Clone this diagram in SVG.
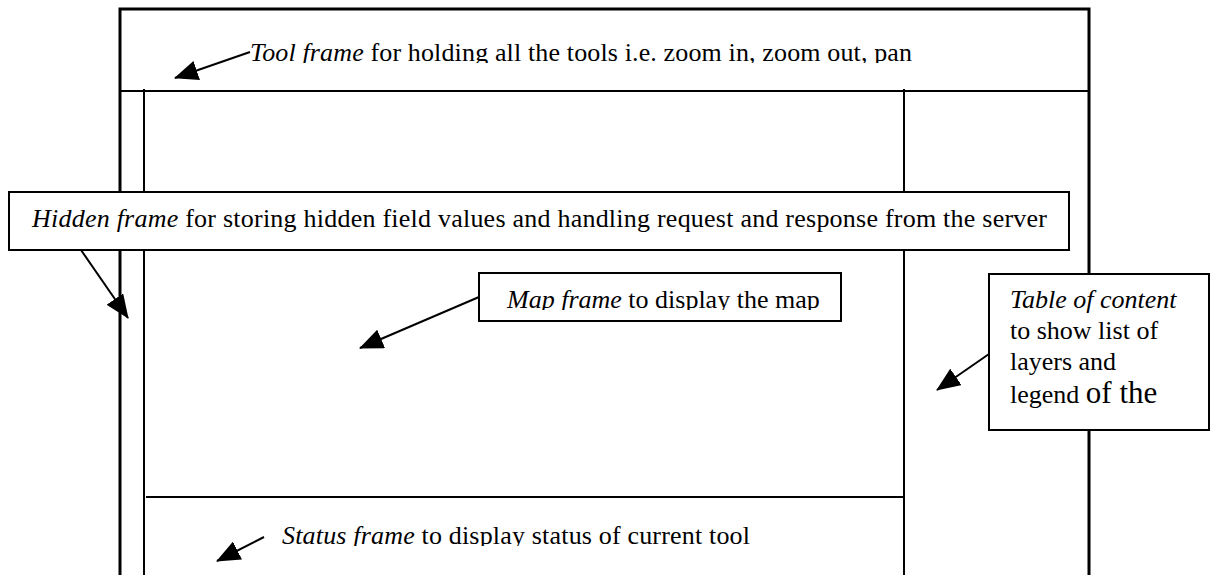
<svg xmlns="http://www.w3.org/2000/svg" width="1217" height="575" viewBox="0 0 1217 575">
<style>
.frame{fill:none;stroke:#000;stroke-width:3}
.div{fill:none;stroke:#000;stroke-width:2}
.box{fill:#fff;stroke:#000;stroke-width:2}
.t{font-family:"Liberation Serif","Times New Roman",serif;font-size:26px;fill:#000}
.i{font-style:italic}
.conn{stroke:#000;stroke-width:2;fill:none;marker-end:url(#ah)}
</style>
<defs>
<marker id="ah" markerUnits="userSpaceOnUse" markerWidth="24" markerHeight="20" viewBox="0 0 24 20" refX="23" refY="10" orient="auto">
<path d="M0,0 L24,10 L0,20 z" fill="#000"/>
</marker>
<clipPath id="clipTool"><rect x="0" y="0" width="1217" height="63"/></clipPath>
<clipPath id="clipMap"><rect x="0" y="0" width="1217" height="310"/></clipPath>
<clipPath id="clipStatus"><rect x="0" y="0" width="1217" height="546"/></clipPath>
</defs>
<rect width="1217" height="575" fill="#fff"/>
<g id="browser-window">
<path class="frame" d="M120,575 V9 H1089 V575"/>
<line class="div" x1="120" y1="91" x2="1089" y2="91"/>
<line class="div" x1="144" y1="89" x2="144" y2="575"/>
<line class="div" x1="904" y1="89" x2="904" y2="575"/>
<line class="div" x1="146" y1="497" x2="905" y2="497"/>
</g>
<g id="tool-frame">
<text class="t" x="250" y="61" textLength="662" clip-path="url(#clipTool)"><tspan class="i">Tool frame</tspan> for holding all the tools i.e. zoom in, zoom out, pan</text>
</g>
<g id="hidden-frame">
<rect class="box" x="9" y="192" width="1060" height="58"/>
<text class="t" x="32" y="227" textLength="1015"><tspan class="i">Hidden frame</tspan> for storing hidden field values and handling request and response from the server</text>
</g>
<g id="map-frame">
<rect class="box" x="479" y="273" width="362" height="48"/>
<text class="t" x="507" y="308" clip-path="url(#clipMap)"><tspan class="i">Map frame</tspan> to display the map</text>
</g>
<g id="toc-frame">
<rect class="box" x="989" y="274" width="220" height="156"/>
<text class="t" x="1010" y="308"><tspan class="i">Table of content</tspan></text>
<text class="t" x="1010" y="339">to show list of</text>
<text class="t" x="1010" y="370">layers and</text>
<text class="t" x="1010" y="403">legend <tspan style="font-size:31px">of the</tspan></text>
</g>
<g id="status-frame">
<text class="t" x="282" y="544" textLength="468" clip-path="url(#clipStatus)"><tspan class="i">Status frame</tspan> to display status of current tool</text>
</g>
<g id="connectors">
<line class="conn" x1="250" y1="52" x2="175" y2="78"/>
<line class="conn" x1="81" y1="250" x2="128" y2="318"/>
<line class="conn" x1="479" y1="297" x2="360" y2="348"/>
<line class="conn" x1="989" y1="354" x2="937" y2="390"/>
<line class="conn" x1="264" y1="537" x2="217" y2="561"/>
</g>
</svg>
